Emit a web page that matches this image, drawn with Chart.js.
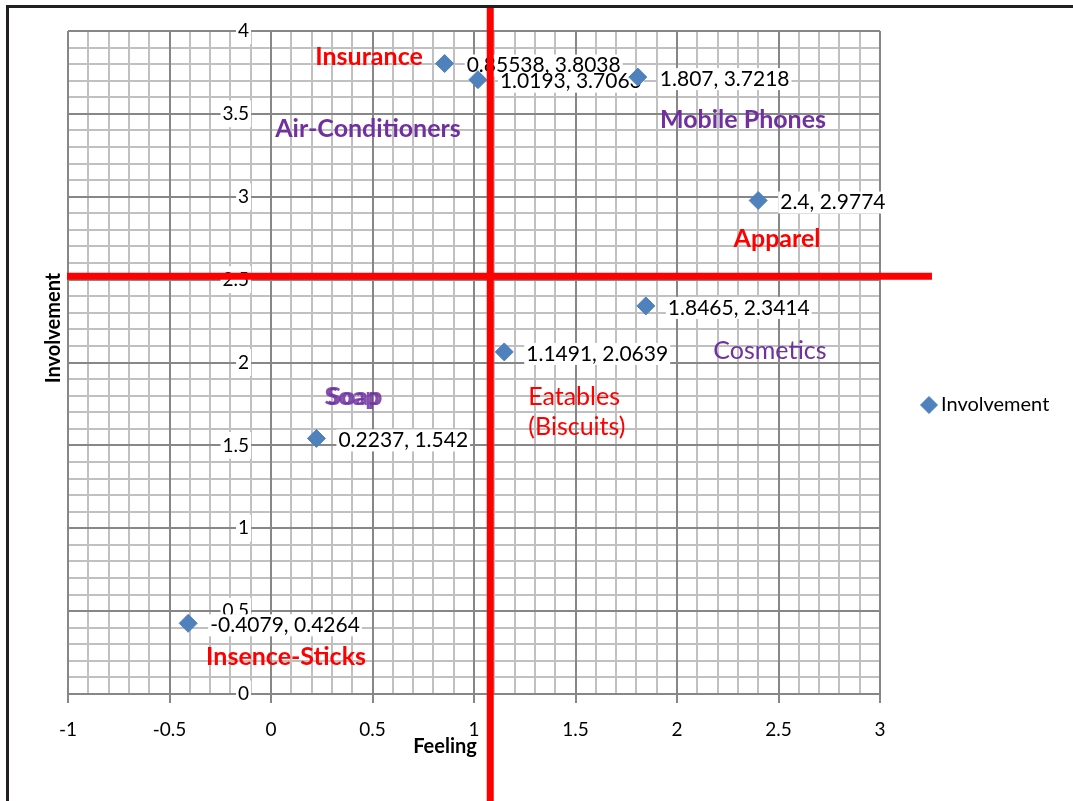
<!DOCTYPE html>
<html><head><meta charset="utf-8">
<script src="https://cdn.jsdelivr.net/npm/chart.js@4/dist/chart.umd.min.js"></script>
<style>html,body{margin:0;padding:0;background:#fff}canvas{display:block}</style>
</head><body>
<canvas id="c" width="1073" height="801"></canvas>
<script>
// ---- data ----
const seriesName = 'Involvement';
const feeling = [0.85538, 1.0193, 1.807, 2.4, 1.8465, 1.1491, 0.2237, -0.4079];
const involvement = [3.8038, 3.7063, 3.7218, 2.9774, 2.3414, 2.0639, 1.542, 0.4264];
const feelingTicks = [-1, -0.5, 0, 0.5, 1, 1.5, 2, 2.5, 3];
const feelingTickLabels = ['-1', '-0.5', '0', '0.5', '1', '1.5', '2', '2.5', '3'];
const involvementTicks = [0, 0.5, 1, 1.5, 2, 2.5, 3, 3.5, 4];
const involvementTickLabels = ['0', '0.5', '1', '1.5', '2', '2.5', '3', '3.5', '4'];
const xTitle = 'Feeling';
const yTitle = 'Involvement';
// quadrant divider values (data units)
const quadrantFeeling = 1.08;
const quadrantInvolvement = 2.52;
// category annotations (text anchored in data units)
const noteTexts = ['Insurance', 'Air-Conditioners', 'Mobile Phones', 'Apparel', 'Cosmetics', 'Soap', 'Eatables', '(Biscuits)', 'Insence-Sticks'];
const noteFeeling = [0.483, 0.478, 2.325, 2.493, 2.458, 0.404, 1.493, 1.507, 0.074];
const noteInvolvement = [3.795, 3.360, 3.415, 2.697, 2.021, 1.744, 1.744, 1.563, 0.175];

// ---- styles ----
const RED = '#FF0000', PURPLE = '#7030A0', BLUE = '#4F81BD';
const noteColors = [RED, PURPLE, PURPLE, RED, PURPLE, PURPLE, RED, RED, RED];
const noteBold = [true, true, true, true, false, true, false, false, true];
const FONT = 'Lato';
const MAJOR = '#878787', MINOR = '#C0C0C0';
const Y_LABEL_ANCHOR = -0.108; // y tick labels sit just left of the vertical axis (x = 0)

const decor = {
  id: 'decor',
  beforeDraw(chart) {
    const ctx = chart.ctx;
    ctx.save();
    ctx.fillStyle = '#fff';
    ctx.fillRect(0, 0, chart.width, chart.height);
    ctx.restore();
  },
  beforeDatasetsDraw(chart) {
    const ctx = chart.ctx;
    const meta = chart.getDatasetMeta(0);
    ctx.save();
    ctx.font = '21px ' + FONT;
    ctx.textBaseline = 'middle';
    ctx.textAlign = 'left';
    const items = meta.data.map((el, i) => ({x: el.x + 22, y: el.y + 2, t: feeling[i] + ', ' + involvement[i]}));
    ctx.fillStyle = '#fff';
    items.forEach(it => {
      const w = ctx.measureText(it.t).width;
      ctx.fillRect(it.x - 2, it.y - 11, w + 4, 22);
    });
    ctx.fillStyle = '#000';
    items.forEach(it => ctx.fillText(it.t, it.x, it.y));
    ctx.restore();
  },
  afterDatasetsDraw(chart) {
    const ctx = chart.ctx;
    const xs = chart.scales.x, ys = chart.scales.y;
    ctx.save();
    ctx.textAlign = 'center';
    ctx.textBaseline = 'alphabetic';
    noteTexts.forEach((t, i) => {
      ctx.font = (noteBold[i] ? 'bold ' : '') + '25px ' + FONT;
      ctx.fillStyle = noteColors[i];
      const px = xs.getPixelForValue(noteFeeling[i]);
      const py = ys.getPixelForValue(noteInvolvement[i]);
      if (t === 'Soap') {
        ctx.globalAlpha = 0.85;
        ctx.fillText(t, px - 1, py);
        ctx.fillText(t, px + 2, py);
        ctx.globalAlpha = 1;
      } else {
        ctx.fillText(t, px, py);
      }
    });
    ctx.restore();
  },
  afterDraw(chart) {
    const ctx = chart.ctx;
    const xs = chart.scales.x, ys = chart.scales.y;
    const area = chart.chartArea;
    ctx.save();
    // quadrant lines
    ctx.strokeStyle = RED;
    ctx.lineWidth = 7;
    const qx = xs.getPixelForValue(quadrantFeeling);
    const qy = ys.getPixelForValue(quadrantInvolvement);
    ctx.beginPath();
    ctx.moveTo(qx, 6); ctx.lineTo(qx, chart.height);
    ctx.moveTo(area.left - 1, qy); ctx.lineTo(xs.getPixelForValue(3.256), qy);
    ctx.stroke();
    // outer frame
    ctx.strokeStyle = '#231F20';
    ctx.lineWidth = 3;
    ctx.beginPath();
    ctx.moveTo(7.5, chart.height); ctx.lineTo(7.5, 6.5); ctx.lineTo(chart.width, 6.5);
    ctx.stroke();
    // axis titles
    ctx.fillStyle = '#000';
    ctx.font = 'bold 20px ' + FONT;
    ctx.textAlign = 'center';
    ctx.textBaseline = 'alphabetic';
    ctx.fillText(xTitle, 445, 753);
    ctx.translate(60, 328);
    ctx.rotate(-Math.PI / 2);
    ctx.fillText(yTitle, 0, 0);
    ctx.restore();
    // legend
    ctx.save();
    const lx = area.right + 49, ly = 405;
    ctx.fillStyle = BLUE; ctx.strokeStyle = BLUE; ctx.lineWidth = 1;
    ctx.beginPath();
    ctx.moveTo(lx, ly - 8.5); ctx.lineTo(lx + 8.5, ly); ctx.lineTo(lx, ly + 8.5); ctx.lineTo(lx - 8.5, ly); ctx.closePath();
    ctx.fill(); ctx.stroke();
    ctx.fillStyle = '#000';
    ctx.font = '20px ' + FONT;
    ctx.textAlign = 'left';
    ctx.textBaseline = 'middle';
    ctx.fillText(seriesName, lx + 12, ly);
    ctx.restore();
  }
};

const tickFont = {family: FONT, size: 19};

new Chart(document.getElementById('c'), {
  type: 'scatter',
  data: {
    datasets: [{
      label: seriesName,
      data: feeling.map((f, i) => ({x: f, y: involvement[i]})),
      pointStyle: 'rectRot',
      pointRadius: 9,
      pointHoverRadius: 9,
      backgroundColor: BLUE,
      borderColor: BLUE,
      borderWidth: 1
    }]
  },
  options: {
    responsive: false,
    animation: false,
    events: [],
    layout: {padding: {left: 68, top: 31, right: 193, bottom: 107}},
    plugins: {legend: {display: false}, tooltip: {enabled: false}, title: {display: false}},
    scales: {
      xm: {
        type: 'linear', axis: 'x', position: {y: 0}, min: -1, max: 3,
        ticks: {display: false, stepSize: 0.1, maxTicksLimit: 100},
        grid: {color: MINOR, lineWidth: 2, drawTicks: false, z: -2},
        border: {display: false}
      },
      ym: {
        type: 'linear', axis: 'y', position: {x: 0}, min: 0, max: 4,
        ticks: {display: false, stepSize: 0.1, maxTicksLimit: 100},
        grid: {color: MINOR, lineWidth: 2, drawTicks: false, z: -2},
        border: {display: false}
      },
      x: {
        type: 'linear', position: {y: 0}, min: -1, max: 3,
        afterBuildTicks: s => { s.ticks = feelingTicks.map(v => ({value: v})); },
        ticks: {
          callback: v => feelingTickLabels[feelingTicks.indexOf(v)],
          font: tickFont, color: '#000', padding: 16, maxRotation: 0, autoSkip: false,
          showLabelBackdrop: true, backdropColor: '#fff', backdropPadding: 2
        },
        grid: {color: MAJOR, lineWidth: 2, tickLength: 8, tickColor: MAJOR, tickWidth: 2, z: -1},
        border: {color: MAJOR, width: 2}
      },
      y: {
        type: 'linear', position: {x: Y_LABEL_ANCHOR}, min: 0, max: 4,
        afterBuildTicks: s => { s.ticks = involvementTicks.map(v => ({value: v})); },
        ticks: {
          callback: v => involvementTickLabels[involvementTicks.indexOf(v)],
          font: tickFont, color: '#000', padding: 0, autoSkip: false,
          showLabelBackdrop: true, backdropColor: '#fff', backdropPadding: 2
        },
        grid: {color: MAJOR, lineWidth: 2, drawTicks: false, z: -1},
        border: {display: false}
      }
    }
  },
  plugins: [decor]
});
</script>
</body></html>
